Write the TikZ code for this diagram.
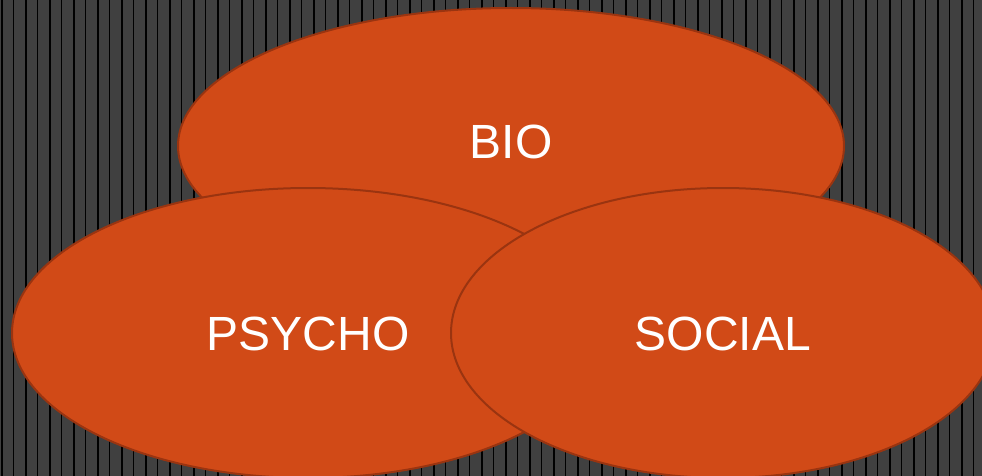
\documentclass[tikz,border=0pt]{standalone}
\usepackage{fontspec}
\setmainfont{Liberation Sans}
\begin{document}
\begin{tikzpicture}[x=1pt,y=-1pt,
  blob/.style={fill=blobfill, draw=blobedge, line width=2pt},
  lbl/.style={text=white, font=\fontsize{48}{48}\selectfont, inner sep=0pt}]
\definecolor{blobfill}{HTML}{D14A17}
\definecolor{blobedge}{HTML}{9A3410}
\definecolor{bgdark}{HTML}{404040}
% striped backdrop
\fill[bgdark] (0,0) rectangle (982,476);
\useasboundingbox (0,0) rectangle (982,476);
\foreach \i in {0,...,81} {
  \pgfmathsetmacro{\w}{mod(\i,2)==0 ? 2 : 1.2}
  \draw[black, line width=\w pt] ({1.5+12*\i},0) -- ({1.5+12*\i},476);
}
% three overlapping ellipses
\begin{scope}
\clip (0,0) rectangle (982,476);
\draw[blob] (511,146) ellipse [x radius=333, y radius=138];
\draw[blob] (308,333) ellipse [x radius=296, y radius=145];
\draw[blob] (723,333) ellipse [x radius=272, y radius=145];
\end{scope}
\node[lbl] (bio) at (511,142) {BIO};
\node[lbl] (psycho) at (308,334) {PSYCHO};
\node[lbl] (social) at (723,334) {SOCIAL};
\end{tikzpicture}
\end{document}
